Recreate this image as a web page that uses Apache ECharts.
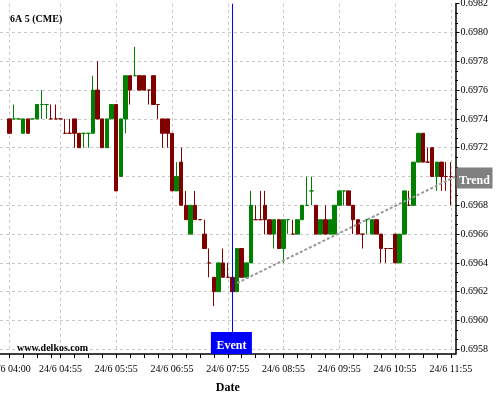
<!DOCTYPE html>
<html>
<head>
<meta charset="utf-8">
<script src="https://cdn.jsdelivr.net/npm/echarts@6/dist/echarts.min.js"></script>
<style>html,body{margin:0;padding:0;background:#fff}#c{width:500px;height:400px}</style>
</head>
<body>
<div id="c"></div>
<script>
// ---- categories (5-minute bars, 24/6) ----
const categories = [
 '03:50','03:55',
 '04:00','04:05','04:10','04:15','04:20','04:25','04:30','04:35','04:40','04:45','04:50','04:55',
 '05:00','05:05','05:10','05:15','05:20','05:25','05:30','05:35','05:40','05:45','05:50','05:55',
 '06:00','06:05','06:10','06:15','06:20','06:25','06:30','06:35','06:40','06:45','06:50','06:55',
 '07:00','07:05','07:10','07:15','07:20','07:25','07:30','07:35','07:40','07:45','07:50','07:55',
 '08:00','08:05','08:10','08:15','08:20','08:25','08:30','08:35','08:40','08:45','08:50','08:55',
 '09:00','09:05','09:10','09:15','09:20','09:25','09:30','09:35','09:40','09:45','09:50','09:55',
 '10:00','10:05','10:10','10:15','10:20','10:25','10:30','10:35','10:40','10:45','10:50','10:55',
 '11:00','11:05','11:10','11:15','11:20','11:25','11:30','11:35','11:40','11:45','11:50','11:55',
 '12:00'
];
const labelTimes = ['04:00','04:55','05:55','06:55','07:55','08:55','09:55','10:55','11:55'];
const datePrefix = '24/6 ';

// ---- OHLC values ----
const openV = [null,null,
 0.6974,0.6974,0.6974,0.6973,0.6974,0.6974,0.6974,0.6975,0.6975,0.6974,0.6974,0.6974,
 0.6973,0.6973,0.6974,0.6973,0.6973,0.6973,0.6973,0.6976,0.6974,0.6972,0.6974,0.6975,
 0.6970,0.6974,0.6977,0.6977,0.6977,0.6977,0.6976,0.6977,0.6975,0.6974,0.6974,0.6973,
 0.6969,0.6971,0.6968,0.6966,0.6968,0.6967,0.6966,0.6964,0.6963,0.6962,0.6964,0.6963,
 0.6963,0.6962,0.6965,0.6963,0.6964,0.6967,0.6967,0.6968,0.6967,0.6966,0.6967,0.6965,
 0.6967,0.6966,0.6966,0.6967,0.6968,0.6969,0.6968,0.6966,0.6967,0.6966,0.6966,0.6968,
 0.6969,0.6969,0.6968,0.6967,0.6966,0.6967,0.6966,0.6967,0.6966,0.6965,0.6965,0.6966,
 0.6964,0.6966,0.6968,0.6968,0.6971,0.6973,0.6971,0.6972,0.6970,0.6971,0.6970,0.6970];
const closeV = [null,null,
 0.6973,0.6974,0.6974,0.6974,0.6973,0.6974,0.6975,0.6975,0.6975,0.6974,0.6974,0.6974,
 0.6973,0.6973,0.6973,0.6972,0.6973,0.6973,0.6976,0.6974,0.6972,0.6974,0.6975,0.6969,
 0.6974,0.6977,0.6976,0.6977,0.6976,0.6976,0.6976,0.6975,0.6975,0.6973,0.6973,0.6969,
 0.6970,0.6968,0.6967,0.6968,0.6967,0.6967,0.6965,0.6964,0.6962,0.6964,0.6963,0.6963,
 0.6962,0.6965,0.6963,0.6964,0.6968,0.6967,0.6967,0.6967,0.6966,0.6967,0.6965,0.6967,
 0.6967,0.6966,0.6967,0.6968,0.6968,0.6969,0.6966,0.6967,0.6966,0.6967,0.6968,0.6969,
 0.6969,0.6968,0.6967,0.6966,0.6966,0.6967,0.6967,0.6966,0.6965,0.6965,0.6965,0.6964,
 0.6966,0.6969,0.6968,0.6971,0.6973,0.6971,0.6971,0.6970,0.6971,0.6970,0.6970,0.6970];
const lowV = [null,null,
 0.6973,0.6974,0.6974,0.6973,0.6973,0.6974,0.6974,0.6974,0.6974,0.6974,0.6974,0.6974,
 0.6973,0.6973,0.6972,0.6972,0.6972,0.6972,0.6973,0.6974,0.6972,0.6972,0.6974,0.6969,
 0.6970,0.6973,0.6975,0.6977,0.6976,0.6976,0.6975,0.6975,0.6974,0.6972,0.6972,0.6969,
 0.6969,0.6968,0.6967,0.6966,0.6967,0.6967,0.6965,0.6963,0.6961,0.6962,0.6963,0.6963,
 0.6962,0.6962,0.6963,0.6963,0.6964,0.6967,0.6967,0.6966,0.6966,0.6965,0.6965,0.6964,
 0.6966,0.6966,0.6966,0.6967,0.6968,0.6968,0.6966,0.6966,0.6966,0.6966,0.6966,0.6968,
 0.6968,0.6968,0.6966,0.6966,0.6965,0.6966,0.6966,0.6966,0.6964,0.6964,0.6965,0.6964,
 0.6964,0.6966,0.6968,0.6968,0.6971,0.6971,0.6971,0.6970,0.6969,0.6969,0.6969,0.6968];
const highV = [null,null,
 0.6974,0.6975,0.6974,0.6974,0.6974,0.6974,0.6975,0.6976,0.6975,0.6975,0.6975,0.6974,
 0.6974,0.6974,0.6974,0.6973,0.6973,0.6973,0.6977,0.6978,0.6974,0.6974,0.6975,0.6975,
 0.6974,0.6977,0.6977,0.6979,0.6977,0.6977,0.6976,0.6977,0.6975,0.6974,0.6974,0.6973,
 0.6971,0.6972,0.6969,0.6968,0.6969,0.6967,0.6967,0.6965,0.6963,0.6964,0.6965,0.6964,
 0.6963,0.6965,0.6965,0.6964,0.6969,0.6968,0.6969,0.6969,0.6967,0.6967,0.6967,0.6967,
 0.6967,0.6967,0.6967,0.6968,0.6970,0.6970,0.6968,0.6967,0.6968,0.6967,0.6968,0.6969,
 0.6969,0.6969,0.6968,0.6967,0.6966,0.6967,0.6967,0.6967,0.6966,0.6965,0.6965,0.6966,
 0.6966,0.6969,0.6969,0.6971,0.6973,0.6973,0.6972,0.6972,0.6971,0.6971,0.6971,0.6971];

// ---- y axis ----
const yMin = 0.6958, yMax = 0.6982, yStep = 0.0002;

// ---- annotations ----
const eventTime = '08:00';
const eventLineEnd = 0.69592;
const eventBoxValue = 0.695844;
const trendStart = ['08:05', 0.69626];
const trendEnd = ['12:00', 0.6970];
const trendBoxValue = 0.69699;

const UP = '#008000', DOWN = '#800000';
const FONT = "'Liberation Serif', 'Times New Roman', serif";

const data = [];
let prevDir = 1, prevClose = null;
for (let i = 0; i < categories.length; i++) {
  if (openV[i] == null) { data.push('-'); continue; }
  const o = openV[i], c = closeV[i];
  let dir;
  if (c > o) dir = 1;
  else if (c < o) dir = -1;
  else dir = prevClose == null ? 1 : (c > prevClose ? 1 : (c < prevClose ? -1 : prevDir));
  const item = { value: [o, c, lowV[i], highV[i]] };
  if (c === o) {
    const col = dir > 0 ? UP : DOWN;
    item.itemStyle = { color: col, color0: col, borderColor: col, borderColor0: col };
  }
  data.push(item);
  prevDir = dir; prevClose = c;
}

const labelIdx = labelTimes.map(t => categories.indexOf(t));
const isLabel = (i) => labelIdx.indexOf(i) >= 0;
const isTick = (i) => {
  for (let k = 0; k < labelIdx.length; k++) {
    const s = labelIdx[k];
    const e = k + 1 < labelIdx.length ? labelIdx[k + 1] : categories.length;
    if (i >= s && i < e) return (i - s) % 3 === 0;
  }
  return false;
};

const gridL = 0, gridR = 44.5;
const chart = echarts.init(document.getElementById('c'), null, { renderer: 'canvas' });
chart.setOption({
  animation: false,
  backgroundColor: '#fff',
  title: [
    { text: '6A 5 (CME)', left: 10, top: 14, padding: 0,
      textStyle: { fontFamily: FONT, fontSize: 10, fontWeight: 'bold', color: '#000' } },
    { text: 'www.delkos.com', left: 17, top: 343, padding: 0,
      textStyle: { fontFamily: FONT, fontSize: 10, fontWeight: 'bold', color: '#000' } }
  ],
  grid: [
    { left: gridL, right: gridR, top: 3.7, bottom: 50.7, outerBoundsMode: 'none' },
    { left: gridL, right: gridR, top: 3.7, bottom: 46, outerBoundsMode: 'none' }
  ],
  xAxis: [
    { type: 'category', gridIndex: 0, data: categories, boundaryGap: false,
      axisLine: { show: false }, axisTick: { show: false }, axisLabel: { show: false },
      splitLine: { show: true, interval: (i) => isLabel(i),
        lineStyle: { color: '#c8c8c8', type: [3, 3], width: 1 } } },
    { type: 'category', gridIndex: 1, data: categories, boundaryGap: false,
      axisLine: { show: true, lineStyle: { color: '#000', width: 1.5 } },
      axisTick: { show: true, interval: (i) => isTick(i), length: 4, lineStyle: { color: '#000' } },
      axisLabel: { show: true, interval: (i) => isLabel(i), formatter: (v) => datePrefix + v,
        fontFamily: FONT, fontSize: 10, color: '#000', margin: 10, hideOverlap: false },
      splitLine: { show: false },
      name: 'Date', nameLocation: 'middle', nameGap: 28,
      nameTextStyle: { fontFamily: FONT, fontSize: 12, fontWeight: 'bold', color: '#000' } }
  ],
  yAxis: [
    { type: 'value', gridIndex: 0, position: 'right', min: yMin, max: yMax, interval: yStep,
      axisLine: { show: false },
      axisTick: { show: true, length: 4, lineStyle: { color: '#000' } },
      minorTick: { show: true, splitNumber: 3, length: 2.5, lineStyle: { color: '#000' } },
      axisLabel: { formatter: (v) => v.toFixed(4), fontFamily: FONT, fontSize: 10, color: '#000',
        margin: 5, padding: [4, 0, 0, 0] },
      splitLine: { show: true, showMaxLine: false,
        lineStyle: { color: '#c8c8c8', type: [3, 3], width: 1 } } },
    { type: 'value', gridIndex: 1, position: 'right', min: 0, max: 1,
      axisLine: { show: true, lineStyle: { color: '#000', width: 1.5 } },
      axisTick: { show: false }, axisLabel: { show: false }, splitLine: { show: false } }
  ],
  series: [{
    type: 'candlestick',
    xAxisIndex: 0, yAxisIndex: 0,
    data: data,
    barWidth: '85%',
    clip: false,
    itemStyle: { color: UP, color0: DOWN, borderColor: UP, borderColor0: DOWN, borderWidth: 1 },
    markLine: {
      silent: true, animation: false, symbol: ['none', 'none'],
      label: { show: false },
      data: [
        [ { coord: [eventTime, yMax], lineStyle: { color: '#0000ff', width: 1, type: 'solid' } },
          { coord: [eventTime, eventLineEnd] } ],
        [ { coord: trendStart, lineStyle: { color: '#999999', width: 2, type: [3, 2] } },
          { coord: trendEnd } ]
      ]
    },
    markPoint: {
      silent: true, animation: false,
      data: [
        { coord: [eventTime, eventBoxValue], symbol: 'rect', symbolSize: [41, 22], symbolOffset: [-1, 0],
          itemStyle: { color: '#0000ff' },
          label: { show: true, position: 'inside', formatter: 'Event', color: '#fff',
            fontFamily: FONT, fontSize: 12, fontWeight: 'bold', offset: [0, 3] } },
        { coord: [trendEnd[0], trendBoxValue], symbol: 'rect', symbolSize: [36, 21], symbolOffset: [19, 0],
          itemStyle: { color: '#808080' },
          label: { show: true, position: 'inside', formatter: 'Trend', color: '#fff',
            fontFamily: FONT, fontSize: 12, fontWeight: 'bold', offset: [0, 3] } }
      ]
    }
  }]
});
</script>
</body>
</html>
